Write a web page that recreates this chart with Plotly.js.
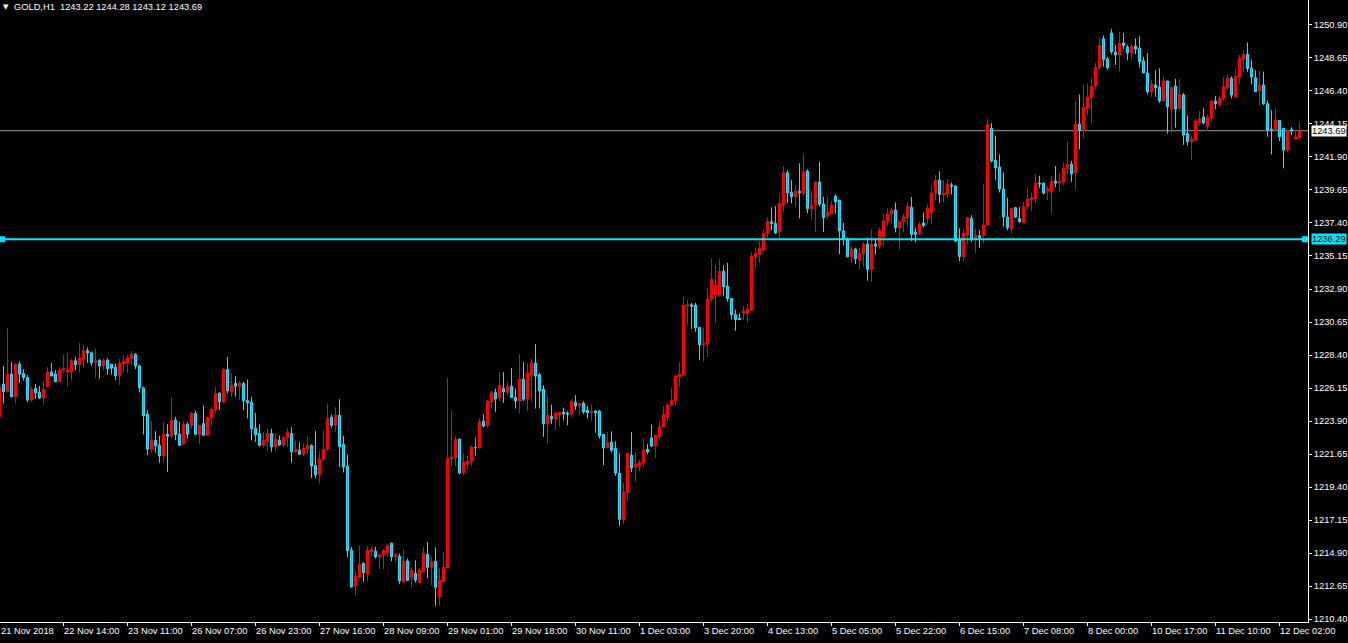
<!DOCTYPE html>
<html><head><meta charset="utf-8">
<script src="https://cdn.plot.ly/plotly-3.0.1.min.js"></script>
<style>html,body{margin:0;padding:0;background:#000;overflow:hidden}#chart{width:1348px;height:643px}</style>
</head><body><div id="chart"></div>
<script>
const symbolName = 'GOLD,H1';

const openP = [
1224.19,1226.42,1225.89,1227.10,1225.56,1227.78,1227.14,1226.87,1225.33,1226.12,
1225.85,1225.47,1226.24,1227.24,1227.10,1226.58,1227.37,1227.24,1227.26,1228.01,
1227.74,1228.10,1228.69,1228.55,1227.87,1228.05,1227.65,1228.05,1227.77,1227.57,
1226.98,1227.80,1227.80,1228.18,1228.46,1227.66,1226.16,1224.36,1221.98,1222.59,
1222.25,1221.52,1223.00,1222.89,1223.96,1222.98,1222.36,1223.68,1223.61,1224.43,
1222.98,1223.73,1222.93,1224.11,1224.66,1225.80,1225.21,1227.41,1225.87,1226.46,
1226.23,1226.46,1225.28,1225.18,1223.41,1223.05,1222.23,1222.55,1223.05,1222.14,
1222.59,1222.27,1222.77,1223.05,1221.80,1221.91,1221.64,1222.00,1222.23,1220.87,
1220.23,1221.30,1221.98,1224.16,1223.61,1224.30,1222.30,1220.82,1215.09,1212.66,
1213.27,1214.20,1213.45,1214.98,1215.02,1214.64,1214.77,1214.93,1215.57,1214.66,
1214.68,1212.93,1214.36,1213.20,1213.52,1212.89,1213.66,1214.80,1213.93,1214.34,
1211.90,1213.00,1213.89,1221.34,1221.41,1222.66,1220.36,1220.95,1221.16,1222.09,
1222.07,1223.89,1223.59,1225.20,1225.86,1225.48,1226.11,1225.86,1226.27,1225.50,
1225.27,1226.75,1225.39,1227.00,1227.86,1227.05,1226.07,1223.73,1224.22,1224.04,
1224.34,1224.50,1224.45,1224.38,1225.16,1224.93,1225.11,1224.63,1224.47,1224.59,
1224.57,1222.98,1222.07,1222.45,1222.02,1220.34,1217.16,1219.02,1221.56,1220.75,
1220.84,1221.02,1221.97,1222.75,1222.20,1222.86,1223.50,1224.18,1224.98,1225.27,
1226.91,1227.02,1231.75,1231.82,1231.80,1230.27,1229.09,1229.16,1232.20,1232.48,
1232.48,1234.11,1233.09,1232.25,1231.16,1230.89,1231.27,1231.27,1231.45,1235.09,
1235.27,1235.55,1236.70,1237.48,1237.37,1236.80,1238.62,1240.82,1239.50,1239.19,
1239.57,1239.41,1240.94,1238.37,1238.62,1240.19,1238.69,1237.89,1238.03,1239.23,
1238.96,1236.87,1236.35,1235.10,1235.62,1234.87,1235.32,1235.96,1234.23,1235.96,
1235.82,1236.46,1237.49,1238.01,1238.28,1237.08,1237.49,1237.76,1238.46,1236.76,
1236.67,1237.40,1237.67,1238.12,1239.44,1240.33,1239.31,1239.37,1239.99,1239.92,
1236.24,1235.12,1236.58,1237.71,1236.30,1236.53,1236.53,1237.26,1243.85,1241.66,
1241.21,1239.71,1237.80,1236.98,1238.44,1237.71,1237.41,1238.53,1238.98,1239.07,
1240.12,1240.12,1239.57,1239.57,1240.25,1240.12,1240.21,1241.12,1241.41,1240.80,
1244.14,1243.71,1245.21,1245.94,1246.73,1248.00,1249.95,1248.58,1250.35,1249.04,
1248.85,1249.67,1249.40,1248.99,1249.45,1249.31,1248.45,1247.63,1246.35,1246.81,
1246.67,1245.72,1247.08,1245.17,1246.72,1245.22,1246.13,1243.49,1242.94,1243.06,
1244.26,1244.63,1243.99,1244.57,1245.71,1245.48,1245.89,1246.62,1247.26,1246.00,
1247.35,1248.53,1248.89,1247.94,1247.30,1246.39,1246.80,1245.53,1243.80,1243.73,
1244.39,1243.85,1242.37,1243.76,1243.12,1243.22
];

const highP = [
1226.40,1227.65,1230.23,1227.92,1227.85,1227.96,1227.42,1227.03,1226.24,1226.42,
1226.28,1226.62,1227.60,1227.87,1227.37,1227.60,1228.42,1228.55,1228.14,1228.28,
1229.24,1229.10,1228.92,1228.64,1228.83,1228.10,1228.17,1228.17,1227.80,1227.82,
1228.12,1228.39,1228.39,1228.66,1228.52,1227.75,1226.25,1224.64,1223.89,1223.21,
1222.89,1223.80,1223.68,1225.52,1224.18,1223.84,1223.89,1223.80,1224.52,1224.61,
1223.66,1224.98,1224.20,1224.86,1226.23,1225.85,1227.50,1228.28,1227.18,1226.96,
1226.64,1226.57,1226.73,1225.55,1224.46,1223.68,1223.14,1223.37,1223.37,1223.05,
1222.91,1222.87,1223.41,1223.50,1222.55,1222.46,1222.37,1222.87,1222.32,1223.23,
1221.82,1223.27,1225.09,1224.34,1224.84,1225.39,1222.89,1221.61,1215.30,1213.66,
1215.43,1214.25,1215.36,1215.32,1215.32,1214.86,1215.16,1215.48,1215.60,1214.89,
1214.86,1215.16,1214.52,1213.93,1214.41,1213.89,1215.30,1215.66,1214.66,1215.30,
1213.85,1214.95,1226.86,1224.59,1222.86,1222.73,1221.68,1221.55,1222.25,1222.77,
1224.07,1224.36,1225.36,1225.95,1226.11,1227.23,1227.23,1226.59,1227.50,1226.11,
1228.46,1227.91,1227.82,1228.18,1229.14,1227.18,1226.34,1225.59,1225.02,1224.52,
1224.52,1224.79,1224.57,1225.38,1225.66,1225.13,1225.25,1224.93,1225.02,1224.61,
1224.66,1223.00,1223.16,1223.20,1222.52,1221.70,1219.70,1221.72,1223.16,1221.79,
1221.25,1222.70,1222.34,1223.66,1222.95,1223.88,1224.91,1225.14,1226.18,1227.02,
1227.91,1232.41,1232.14,1231.95,1231.95,1230.30,1230.27,1233.00,1235.00,1234.52,
1234.93,1234.52,1234.68,1232.28,1231.50,1231.27,1231.73,1231.86,1235.41,1235.73,
1236.14,1237.00,1237.80,1238.46,1238.55,1239.37,1241.28,1241.00,1240.32,1239.98,
1241.46,1242.10,1241.05,1239.60,1240.23,1241.55,1239.19,1239.19,1238.89,1239.37,
1238.98,1237.41,1236.40,1235.82,1235.71,1235.69,1236.12,1236.41,1236.96,1236.39,
1237.10,1238.03,1238.40,1238.40,1238.80,1237.58,1238.03,1238.80,1239.17,1237.08,
1237.49,1238.10,1238.67,1239.94,1240.67,1240.94,1240.31,1240.37,1240.15,1239.95,
1237.03,1237.03,1237.83,1237.94,1237.03,1236.92,1240.06,1244.49,1244.21,1243.35,
1242.07,1240.84,1239.12,1238.44,1238.50,1238.50,1238.84,1239.75,1239.48,1240.75,
1240.62,1240.14,1239.91,1240.59,1241.28,1240.80,1241.53,1242.98,1241.62,1245.71,
1246.16,1246.80,1246.90,1247.30,1248.30,1250.00,1250.17,1248.72,1250.63,1249.54,
1250.45,1250.35,1249.54,1249.63,1249.99,1250.13,1248.72,1248.99,1247.13,1247.81,
1247.95,1247.40,1247.10,1246.67,1247.22,1247.22,1246.26,1244.72,1243.35,1244.54,
1245.04,1245.22,1244.81,1245.73,1246.07,1246.03,1247.35,1247.53,1247.39,1247.94,
1248.85,1249.16,1249.71,1248.53,1247.82,1247.76,1247.71,1245.76,1245.07,1245.25,
1244.40,1243.88,1243.76,1243.94,1243.73,1244.28
];

const lowP = [
1223.95,1225.10,1225.83,1225.51,1225.10,1226.51,1226.65,1225.19,1225.19,1225.42,
1225.40,1225.01,1226.20,1226.95,1226.56,1226.56,1227.19,1226.23,1226.65,1227.37,
1227.19,1227.55,1227.87,1227.65,1226.83,1226.78,1227.37,1227.05,1227.07,1226.68,
1226.34,1227.25,1227.16,1227.66,1227.43,1225.84,1222.98,1221.57,1221.75,1221.75,
1221.05,1221.07,1220.43,1222.75,1222.59,1222.22,1222.25,1222.71,1223.39,1222.93,
1222.34,1222.89,1222.90,1223.57,1224.43,1224.66,1225.10,1225.78,1225.55,1225.55,
1225.32,1224.64,1224.07,1222.59,1222.48,1222.18,1222.09,1221.87,1221.80,1221.80,
1222.23,1222.14,1222.14,1221.05,1221.73,1221.59,1221.50,1221.68,1220.02,1220.00,
1219.64,1221.14,1221.87,1223.43,1223.16,1220.77,1220.39,1214.61,1212.52,1211.98,
1213.11,1212.93,1213.00,1214.64,1214.52,1213.84,1213.80,1214.64,1214.34,1214.30,
1212.80,1212.90,1212.98,1212.52,1212.89,1212.84,1213.61,1213.20,1212.70,1211.30,
1211.35,1212.86,1213.85,1220.82,1220.82,1220.27,1220.20,1220.64,1220.82,1221.57,
1222.05,1223.46,1223.46,1224.75,1224.52,1225.27,1225.14,1225.64,1225.48,1224.75,
1224.41,1225.27,1224.59,1225.20,1224.75,1224.75,1222.82,1222.32,1223.70,1223.29,
1223.57,1223.93,1223.61,1224.16,1224.66,1224.29,1224.38,1224.07,1223.93,1223.11,
1222.70,1220.88,1222.05,1221.75,1220.16,1216.75,1216.88,1218.43,1220.43,1219.79,
1220.47,1220.75,1221.66,1222.13,1221.38,1222.70,1223.45,1223.91,1224.95,1224.98,
1226.23,1227.00,1230.43,1230.18,1229.98,1228.05,1227.93,1228.27,1232.02,1230.59,
1232.36,1232.41,1232.02,1230.82,1230.05,1230.80,1230.77,1230.59,1231.43,1234.36,
1234.68,1235.40,1236.40,1236.91,1236.64,1236.23,1238.16,1238.78,1238.73,1238.51,
1237.71,1239.30,1238.05,1237.60,1236.80,1238.51,1236.80,1237.66,1238.01,1238.05,
1235.28,1235.89,1235.05,1234.69,1234.60,1234.23,1234.42,1233.46,1233.39,1235.28,
1235.64,1235.85,1237.21,1237.37,1236.76,1235.58,1236.76,1237.15,1236.17,1236.08,
1236.58,1237.08,1237.30,1237.30,1238.90,1238.76,1238.80,1239.12,1239.35,1236.08,
1234.80,1234.80,1235.94,1236.12,1235.33,1235.71,1236.01,1237.21,1241.53,1240.32,
1239.48,1237.14,1236.91,1236.66,1237.75,1237.44,1237.41,1238.34,1238.21,1238.71,
1239.80,1239.34,1238.96,1238.03,1239.84,1239.48,1239.98,1240.71,1240.21,1239.66,
1242.44,1243.16,1244.75,1244.19,1246.50,1247.80,1248.06,1247.83,1248.90,1248.17,
1247.72,1249.26,1248.51,1248.51,1248.90,1247.99,1247.60,1246.17,1245.99,1246.01,
1245.58,1245.70,1243.49,1243.49,1243.90,1245.04,1242.72,1242.67,1241.69,1243.04,
1244.04,1244.13,1243.67,1244.30,1245.16,1245.32,1245.76,1246.46,1245.89,1245.94,
1246.89,1247.71,1247.71,1246.85,1246.33,1245.39,1245.44,1243.28,1242.07,1243.70,
1242.98,1241.12,1242.25,1243.39,1243.10,1243.12
];

const closeP = [
1226.23,1225.89,1227.10,1225.56,1227.78,1227.10,1226.87,1225.33,1226.06,1225.83,
1225.47,1226.06,1227.24,1226.97,1226.58,1227.37,1227.46,1227.37,1228.01,1227.74,
1228.19,1228.69,1228.55,1227.87,1228.01,1227.65,1228.01,1227.46,1227.50,1226.98,
1227.84,1227.98,1228.21,1228.46,1227.66,1226.16,1224.25,1221.98,1222.59,1222.21,
1221.52,1223.00,1222.86,1223.96,1222.98,1222.25,1223.68,1223.00,1224.43,1223.00,
1223.61,1222.93,1224.16,1224.71,1225.80,1225.21,1227.41,1225.96,1226.37,1226.28,
1226.46,1225.28,1225.14,1223.37,1222.96,1222.23,1222.59,1223.05,1222.14,1222.64,
1222.27,1222.77,1223.14,1221.80,1221.98,1221.64,1222.05,1222.23,1220.84,1220.23,
1221.30,1221.98,1224.07,1223.61,1224.30,1222.14,1220.77,1215.07,1212.59,1213.32,
1214.14,1213.57,1215.09,1215.14,1214.64,1214.77,1215.07,1215.43,1214.64,1214.80,
1213.00,1214.36,1213.05,1213.73,1213.05,1213.73,1214.89,1213.93,1214.30,1212.57,
1213.04,1213.91,1221.34,1221.43,1222.66,1220.36,1221.09,1221.16,1222.11,1222.09,
1223.82,1223.55,1225.25,1225.82,1225.41,1226.34,1225.89,1226.27,1225.50,1225.27,
1226.75,1225.39,1227.18,1227.86,1226.96,1225.95,1223.70,1224.30,1224.04,1224.43,
1224.48,1224.38,1224.38,1225.25,1224.93,1225.11,1224.52,1224.47,1224.52,1224.45,
1222.88,1222.07,1222.45,1221.91,1220.36,1217.20,1219.06,1221.70,1220.70,1220.97,
1221.06,1221.93,1221.79,1222.20,1222.93,1223.50,1224.36,1224.98,1225.32,1226.98,
1227.09,1231.80,1231.82,1231.73,1230.25,1229.09,1229.20,1232.20,1233.55,1233.16,
1234.11,1233.05,1232.25,1231.16,1230.82,1230.82,1231.39,1231.50,1235.14,1235.32,
1235.68,1236.70,1237.50,1237.37,1236.73,1238.73,1240.82,1239.46,1239.19,1239.57,
1239.46,1240.89,1238.37,1238.62,1240.19,1238.69,1237.76,1238.14,1238.62,1238.85,
1236.87,1236.28,1235.10,1235.62,1234.96,1235.32,1235.96,1234.23,1235.96,1235.82,
1236.90,1237.53,1238.01,1238.28,1237.08,1237.49,1237.80,1238.55,1236.62,1236.62,
1237.30,1237.21,1238.40,1239.44,1240.33,1239.35,1239.44,1240.06,1239.92,1236.17,
1235.12,1236.71,1237.76,1236.30,1236.58,1236.40,1237.26,1244.12,1241.62,1241.16,
1239.71,1237.82,1237.07,1238.39,1237.80,1237.48,1238.53,1239.03,1239.12,1240.12,
1240.07,1239.44,1239.71,1240.25,1240.12,1240.25,1241.14,1241.41,1240.75,1244.14,
1243.71,1245.30,1245.98,1246.73,1248.00,1249.50,1248.54,1247.99,1249.08,1248.85,
1249.67,1249.49,1248.99,1249.45,1249.26,1248.40,1247.63,1246.35,1246.85,1246.63,
1245.72,1247.08,1245.33,1246.63,1245.17,1246.17,1243.40,1242.94,1243.13,1244.35,
1244.49,1244.22,1244.63,1245.71,1245.53,1245.89,1246.71,1247.26,1246.12,1247.39,
1248.62,1248.89,1247.94,1247.35,1246.35,1246.80,1245.53,1243.73,1243.73,1244.39,
1243.28,1242.37,1243.67,1243.67,1243.28,1243.69
];

const timeLabels = ['21 Nov 2018','22 Nov 14:00','23 Nov 11:00','26 Nov 07:00','26 Nov 23:00',
  '27 Nov 16:00','28 Nov 09:00','29 Nov 01:00','29 Nov 18:00','30 Nov 11:00','1 Dec 03:00',
  '3 Dec 20:00','4 Dec 13:00','5 Dec 05:00','5 Dec 22:00','6 Dec 15:00','7 Dec 08:00',
  '8 Dec 00:00','10 Dec 17:00','11 Dec 10:00','12 Dec 02:00'];
const barsPerLabel = 16;

const lineLevel = 1236.29;
const priceTick0 = 1210.40;
const priceTickStep = 2.25;

// ---------- build ----------
const n = openP.length;
const idx = openP.map((_, i) => i);
const last = n - 1;
const bid = closeP[last];
const fmt = v => v.toFixed(2);
const X_RANGE = [0.125, 327.125];

const RED = '#ff0000';
const CYAN_LINE = '#22e0ff';
const CYAN_FILL = '#00bfff';
const TXT = '#ffffff';
const FONT = 'Liberation Sans, Arial, sans-serif';
const FS = 9.3;

const candles = {
  type: 'candlestick', x: idx, open: openP, high: highP, low: lowP, close: closeP,
  increasing: {line: {color: RED, width: 1}, fillcolor: RED},
  decreasing: {line: {color: CYAN_LINE, width: 1}, fillcolor: CYAN_FILL},
  whiskerwidth: 0, hoverinfo: 'skip', showlegend: false
};

// doji bars (open == close) drawn in green like the terminal
const dx = [], dy = [];
for (let i = 0; i < n; i++) {
  if (openP[i] === closeP[i]) {
    dx.push(i - 0.3, i + 0.3, null, i, i, null);
    dy.push(openP[i], openP[i], null, lowP[i], highP[i], null);
  }
}
const doji = {type: 'scatter', mode: 'lines', x: dx, y: dy, line: {color: '#00ff00', width: 1},
  hoverinfo: 'skip', showlegend: false};

const tickIdx = timeLabels.map((_, m) => m * barsPerLabel);

const annotations = timeLabels.map((t, m) => {
  const inside = tickIdx[m] >= X_RANGE[0];
  return {
    text: t, xref: inside ? 'x' : 'paper', yref: 'paper', x: inside ? tickIdx[m] : 0, y: 0,
    xanchor: 'left', yanchor: 'top', xshift: inside ? -2 : -1, yshift: -2, showarrow: false,
    font: {family: FONT, size: FS, color: TXT}
  };
});

annotations.push({
  text: '▼', xref: 'paper', yref: 'paper', x: 0, y: 1, xanchor: 'left', yanchor: 'top',
  xshift: 1, yshift: -1, showarrow: false, font: {family: 'DejaVu Sans', size: 7, color: TXT}
});
annotations.push({
  text: symbolName + '  ' + [openP[last], highP[last], lowP[last], closeP[last]].map(fmt).join(' '),
  xref: 'paper', yref: 'paper', x: 0, y: 1, xanchor: 'left', yanchor: 'top',
  xshift: 12, yshift: 0, showarrow: false, font: {family: FONT, size: FS, color: TXT}
});
annotations.push({
  text: fmt(bid), xref: 'paper', yref: 'y', x: 1, y: bid, xanchor: 'left', yanchor: 'middle',
  xshift: 3, showarrow: false, bgcolor: '#ffffff', borderpad: 0,
  font: {family: FONT, size: FS, color: '#000000'}
});
annotations.push({
  text: fmt(lineLevel), xref: 'paper', yref: 'y', x: 1, y: lineLevel, xanchor: 'left', yanchor: 'middle',
  xshift: 3, showarrow: false, bgcolor: '#00e5ff', borderpad: 0,
  font: {family: FONT, size: FS, color: '#000000'}
});

const shapes = [
  {type: 'line', xref: 'paper', x0: 0, x1: 1, yref: 'y', y0: bid, y1: bid,
   line: {color: '#9a9a9a', width: 1}, layer: 'below'},
  {type: 'line', xref: 'paper', x0: 0, x1: 1, yref: 'y', y0: lineLevel, y1: lineLevel,
   line: {color: '#00e5ff', width: 2}, layer: 'above'},
  {type: 'rect', xref: 'paper', yref: 'y', xsizemode: 'pixel', ysizemode: 'pixel',
   xanchor: 0, x0: 0, x1: 5, yanchor: lineLevel, y0: -3, y1: 3,
   fillcolor: '#00e5ff', line: {width: 0}, layer: 'above'},
  {type: 'rect', xref: 'paper', yref: 'y', xsizemode: 'pixel', ysizemode: 'pixel',
   xanchor: 1, x0: -6, x1: 0, yanchor: lineLevel, y0: -3, y1: 3,
   fillcolor: '#00e5ff', line: {width: 0}, layer: 'above'}
];

const layout = {
  width: 1348, height: 643,
  paper_bgcolor: '#000000', plot_bgcolor: '#000000',
  margin: {l: 0, r: 40, t: 0, b: 21, pad: 0},
  showlegend: false, boxgap: 0.5, boxgroupgap: 0,
  font: {family: FONT, size: FS, color: TXT},
  xaxis: {
    range: X_RANGE, showgrid: false, zeroline: false, showline: true,
    linecolor: '#ffffff', linewidth: 1, tickmode: 'array', tickvals: tickIdx,
    showticklabels: false, ticks: 'outside', ticklen: 3, tickcolor: '#ffffff',
    rangeslider: {visible: false}, fixedrange: true
  },
  yaxis: {
    range: [1210.20, 1252.60], side: 'right', showgrid: false, zeroline: false,
    showline: true, linecolor: '#ffffff', linewidth: 1, ticks: 'outside', ticklen: 3,
    tickcolor: '#ffffff', tickmode: 'linear', tick0: priceTick0, dtick: priceTickStep,
    tickformat: '.2f', tickfont: {family: FONT, size: FS, color: TXT}, fixedrange: true
  },
  shapes: shapes, annotations: annotations
};

Plotly.newPlot('chart', [candles, doji], layout, {displayModeBar: false, staticPlot: true});
</script>
</body></html>
